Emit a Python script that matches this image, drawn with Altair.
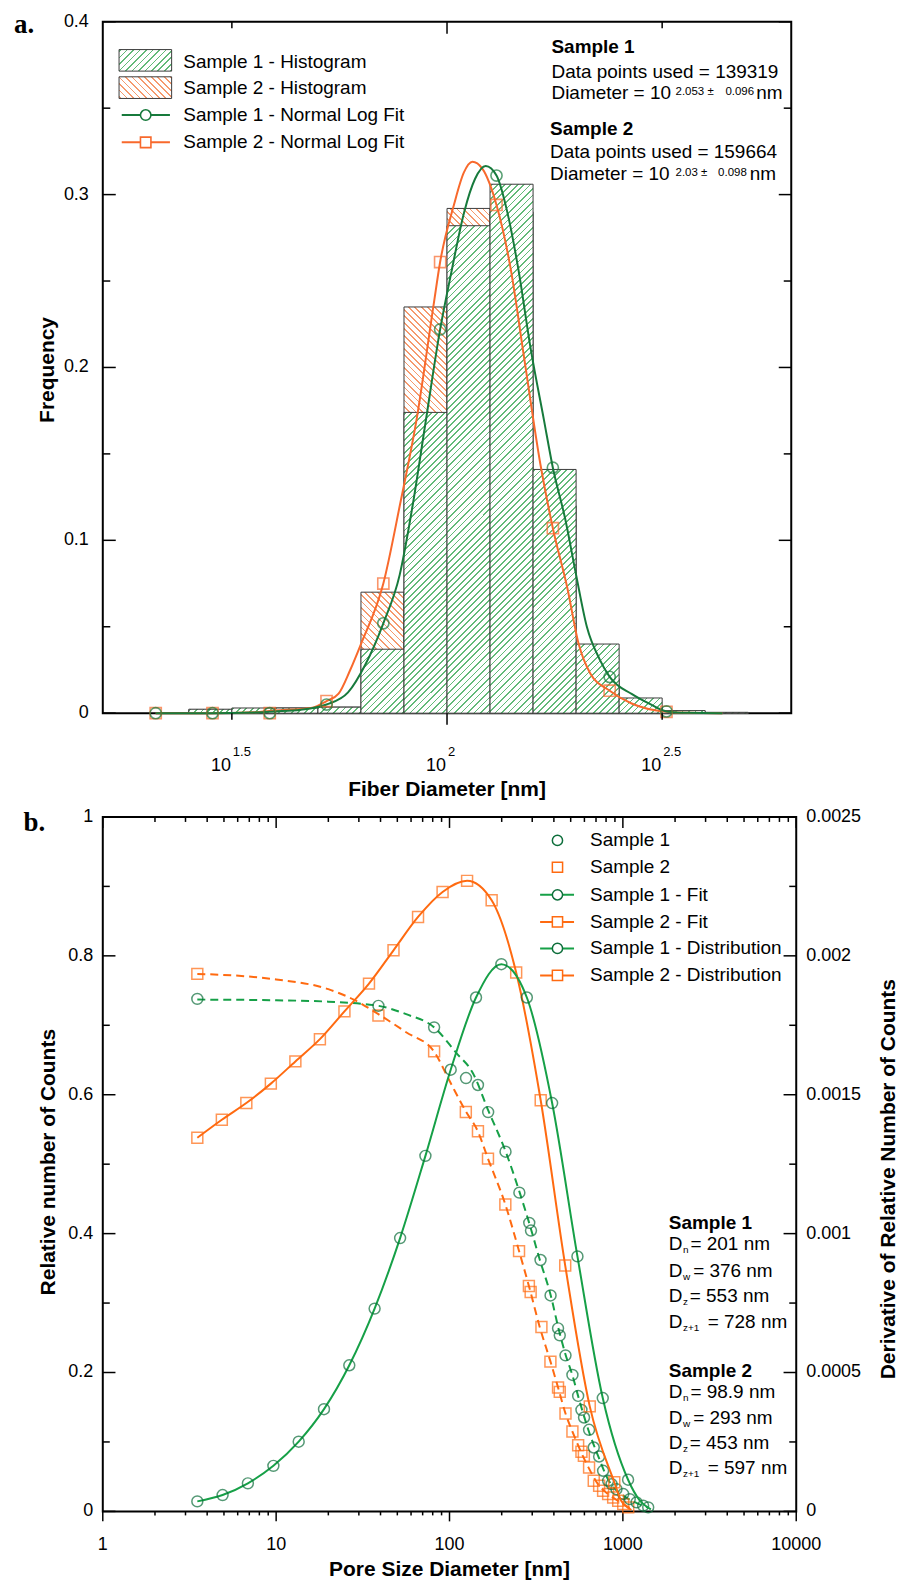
import altair as alt
import pandas as pd

FONT = "Liberation Sans"
SERIF = "Liberation Serif"

# ---------------- panel a data (x in log10 nm) ----------------
bin_lo_log10 = [1.4, 1.5, 1.6, 1.7, 1.8, 1.9, 2.0, 2.1, 2.2, 2.3, 2.4, 2.5, 2.6]
bin_width_log10 = 0.1
hist_sample1 = [0.0023, 0.003, 0.003, 0.0035, 0.037, 0.174, 0.282, 0.306, 0.141, 0.040, 0.0088, 0.0015, 0.0005]
hist_sample2 = [0.002, 0.0025, 0.003, 0.0035, 0.070, 0.235, 0.292, 0.290, 0.120, 0.020, 0.004, 0.001, 0.0003]

fitA1_log10 = [1.323, 1.45, 1.55, 1.60, 1.66, 1.72, 1.77, 1.81, 1.852, 1.89, 1.92, 1.95, 1.984, 2.01, 2.04,
               2.065, 2.09, 2.115, 2.14, 2.165, 2.195, 2.225, 2.246, 2.275, 2.30, 2.325, 2.355, 2.378, 2.43,
               2.47, 2.51, 2.56, 2.64]
fitA1_freq = [0, 0, 0.0004, 0.001, 0.002, 0.005, 0.012, 0.028, 0.052, 0.080, 0.120, 0.168, 0.222, 0.255, 0.290,
              0.309, 0.3165, 0.311, 0.290, 0.258, 0.21, 0.17, 0.142, 0.112, 0.080, 0.050, 0.031, 0.021, 0.011,
              0.0055, 0.001, 0.0002, 0]
fitA2_log10 = [1.323, 1.45, 1.55, 1.60, 1.684, 1.72, 1.748, 1.775, 1.80, 1.852, 1.891, 1.930, 1.969, 1.984,
               2.016, 2.039, 2.059, 2.082, 2.115, 2.148, 2.179, 2.217, 2.246, 2.280, 2.306, 2.333, 2.378, 2.429,
               2.51, 2.56, 2.64]
fitA2_freq = [0, 0, 0.0005, 0.0015, 0.003, 0.007, 0.0113, 0.025, 0.040, 0.075, 0.121, 0.171, 0.2365, 0.261,
              0.294, 0.3127, 0.319, 0.315, 0.294, 0.257, 0.206, 0.144, 0.107, 0.072, 0.040, 0.023, 0.013, 0.0056,
              0.0008, 0.0002, 0]
markA_log10 = [1.323, 1.455, 1.588, 1.72, 1.852, 1.984, 2.115, 2.246, 2.378, 2.51]
markA1_freq = [0, 0, 0, 0.005, 0.052, 0.222, 0.311, 0.142, 0.021, 0.001]
markA2_freq = [0, 0, 0, 0.007, 0.075, 0.261, 0.294, 0.107, 0.013, 0.0008]

tickA_major_log10 = [2.0]
tickA_minor_log10 = [1.5, 2.5]
tickA_label_log10 = [1.5, 2.0, 2.5]
tickA_label_exp = ["1.5", "2", "2.5"]
yA_major = [0, 0.1, 0.2, 0.3, 0.4]
yA_major_labels = ["0", "0.1", "0.2", "0.3", "0.4"]
yA_minor = [0.05, 0.15, 0.25, 0.35]

legendA_labels = ["Sample 1 - Histogram", "Sample 2 - Histogram",
                  "Sample 1 - Normal Log Fit", "Sample 2 - Normal Log Fit"]

# ---------------- panel b data (x in nm) ----------------
dist1_nm = [3.51, 4.91, 6.87, 9.64, 13.49, 18.88, 26.42, 36.98, 51.88, 72.61, 101.6, 142.2, 199.1, 279.3,
            390.8, 547.0, 765.6, 1071.5]
dist1_deriv = [0.000036, 0.0000588, 0.000101, 0.000164, 0.000251, 0.000368, 0.000526, 0.00073, 0.000984,
               0.00128, 0.00159, 0.00185, 0.00197, 0.00185, 0.00147, 0.000918, 0.000408, 0.000114]
dist1_tail_nm = [1250, 1370, 1450]
dist1_tail_deriv = [0.00004, 0.0000175, 0.0000075]

dist2_nm = [3.51, 4.86, 6.73, 9.32, 12.91, 17.88, 24.77, 34.32, 47.53, 65.84, 91.2, 126.3, 175.0, 242.4,
            335.7, 465.0, 644.2, 892.3]
dist2_deriv = [0.001345, 0.00141, 0.00147, 0.00154, 0.00162, 0.0017, 0.0018, 0.0019, 0.00202, 0.00214,
               0.00223, 0.00227, 0.0022, 0.00194, 0.00148, 0.000885, 0.000378, 0.000105]
dist2_tail_nm = [980, 1050, 1120]
dist2_tail_deriv = [0.0000375, 0.0000175, 0.000005]

fit1_nm = [3.51, 10, 19.95, 38.9, 56.2, 81.5, 109.6, 136.5, 167.5, 210.9, 254.1, 292.4, 331.1, 383.7, 426.6,
           466.7, 511.7, 552.1, 631, 724.4, 822.2, 912, 1000, 1202, 1413]
fit1_rel = [0.737, 0.736, 0.734, 0.728, 0.716, 0.697, 0.66, 0.631, 0.577, 0.518, 0.459, 0.41, 0.363, 0.311,
            0.262, 0.226, 0.196, 0.166, 0.118, 0.078, 0.046, 0.031, 0.023, 0.012, 0.005]
fit2_nm = [3.51, 10, 20, 28, 38.9, 56.2, 81.5, 100, 124.2, 145.9, 166.7, 209.9, 251.8, 290.4, 331, 382,
           426.6, 466.7, 511.7, 552.1, 631, 724, 822, 939, 1074, 1150]
fit2_rel = [0.774, 0.766, 0.752, 0.737, 0.716, 0.69, 0.662, 0.62, 0.576, 0.547, 0.508, 0.442, 0.375, 0.32,
            0.266, 0.216, 0.175, 0.141, 0.115, 0.095, 0.064, 0.038, 0.025, 0.015, 0.006, 0.002]

pts1_nm = [3.51, 38.9, 81.5, 124.5, 145.9, 167.1, 210.4, 252.9, 288.4, 295.1, 335, 382.8, 422.7, 432.5, 466.7,
           511.7, 552.1, 576.8, 597, 638.3, 679.2, 729.5, 769.1, 822.2, 861, 918, 1005, 1096, 1199, 1309, 1400]
pts1_rel = [0.738, 0.728, 0.697, 0.624, 0.614, 0.575, 0.518, 0.459, 0.4155, 0.4044, 0.362, 0.311, 0.2636,
            0.2535, 0.2247, 0.1965, 0.1663, 0.1462, 0.1352, 0.1175, 0.092, 0.079, 0.0585, 0.0441, 0.0393,
            0.032, 0.025, 0.0177, 0.013, 0.0082, 0.0058]
pts2_nm = [3.51, 38.9, 81.5, 124.2, 145.9, 166.7, 209.9, 251.8, 287, 293.8, 339, 382, 422.7, 432.5, 466.7,
           511.7, 552.1, 576.8, 595.7, 638.3, 679.2, 729.5, 769.1, 822.2, 879, 939.7, 1004.6, 1074]
pts2_rel = [0.774, 0.714, 0.6624, 0.5751, 0.5473, 0.508, 0.4419, 0.3748, 0.3245, 0.3159, 0.2656, 0.2157,
            0.1783, 0.1721, 0.1409, 0.115, 0.0953, 0.0858, 0.080, 0.0633, 0.0441, 0.0369, 0.0297, 0.025,
            0.0201, 0.0153, 0.0105, 0.0058]

xB_major = [1, 10, 100, 1000, 10000]
xB_major_labels = ["1", "10", "100", "1000", "10000"]
xB_minor = [m * d for d in [1, 10, 100, 1000] for m in range(2, 10)]
yB_major = [0, 0.2, 0.4, 0.6, 0.8, 1.0]
yB_major_labels = ["0", "0.2", "0.4", "0.6", "0.8", "1"]
yB_minor = [0.1, 0.3, 0.5, 0.7, 0.9]
yB_right = [0, 0.0005, 0.001, 0.0015, 0.002, 0.0025]
yB_right_labels = ["0", "0.0005", "0.001", "0.0015", "0.002", "0.0025"]

legendB_labels = ["Sample 1", "Sample 2", "Sample 1 - Fit", "Sample 2 - Fit",
                  "Sample 1 - Distribution", "Sample 2 - Distribution"]

# ---------------- styling ----------------
W_A, H_A = 690, 693
W_B, H_B = 695, 696
LEFT, TOP_A, TOP_B = 101, 19, 813

GA = "#177a3c"
OA = "#f8692c"
HG = "#62ba78"
HO = "#f59a6e"
GB_LINE = "#16a047"
GB_MARK = "#0d6e3b"
OB = "#ff6a10"
BAR_STROKE = "#3c3c3c"

ONE = pd.DataFrame({"k": [0]})


def ax(xf):
    return xf - LEFT


def ya_(yf):
    return yf - TOP_A


def yb_(yf):
    return yf - TOP_B


def text_layer(s, x, y, size=19, bold=False, align="left", baseline="alphabetic", angle=0, font=FONT):
    props = dict(text=s, fontSize=size, align=align, baseline=baseline, font=font, color="black")
    if bold:
        props["fontWeight"] = "bold"
    if angle:
        props["angle"] = angle
    return alt.Chart(ONE).mark_text(**props).encode(x=alt.value(x), y=alt.value(y))


def hatch(w, h, color, forward, period=6.5, thick=1.8, phase=1.0):
    w = max(float(w), 1.0)
    h = max(float(h), 1.0)
    L = w + h
    s = L / (w * w + h * h)
    stops = [{"offset": 0, "color": "#ffffff"}]
    k = 0
    while True:
        a = (phase + k * period) / L
        if a >= 1:
            break
        b = min((phase + k * period + thick) / L, 1.0)
        a, b = round(a, 5), round(b, 5)
        stops += [{"offset": a, "color": "#ffffff"}, {"offset": a, "color": color},
                  {"offset": b, "color": color}, {"offset": b, "color": "#ffffff"}]
        k += 1
    stops.append({"offset": 1, "color": "#ffffff"})
    if forward:
        return {"gradient": "linear", "x1": 0, "y1": 0, "x2": round(w * s, 5), "y2": round(h * s, 5),
                "stops": stops}
    return {"gradient": "linear", "x1": 0, "y1": 1, "x2": round(w * s, 5), "y2": round(1 - h * s, 5),
            "stops": stops}


def vticks(vals, scale, y0, y1, sw=1.5):
    return alt.Chart(pd.DataFrame({"v": vals})).mark_rule(color="black", strokeWidth=sw).encode(
        x=alt.X("v:Q", scale=scale, axis=None), y=alt.value(y0), y2=alt.value(y1))


def hticks(vals, scale, x0, x1, sw=1.5):
    return alt.Chart(pd.DataFrame({"v": vals})).mark_rule(color="black", strokeWidth=sw).encode(
        y=alt.Y("v:Q", scale=scale, axis=None), x=alt.value(x0), x2=alt.value(x1))


def ylabels(vals, labels, scale, x, align):
    df = pd.DataFrame({"v": vals, "lab": labels})
    return alt.Chart(df).mark_text(align=align, baseline="middle", fontSize=18, font=FONT, color="black").encode(
        y=alt.Y("v:Q", scale=scale, axis=None), x=alt.value(x), text="lab:N")


# ================= PANEL A =================
xa = alt.Scale(type="log", domain=[10 ** 1.2, 10 ** 2.8])
ya = alt.Scale(domain=[0, 0.4])
bar_w_px = W_A * bin_width_log10 / 1.6

layers_a = []
for vals, col, fwd in [(hist_sample2, HO, False), (hist_sample1, HG, True)]:
    for lo, v in zip(bin_lo_log10, vals):
        df = pd.DataFrame({"lo": [10 ** lo], "hi": [10 ** (lo + bin_width_log10)], "f": [v]})
        h_px = v * H_A / 0.4
        layers_a.append(
            alt.Chart(df).mark_rect(fill=hatch(bar_w_px, h_px, col, fwd), stroke=BAR_STROKE, strokeWidth=1)
            .encode(x=alt.X("lo:Q", scale=xa, axis=None), x2="hi:Q",
                    y=alt.Y("f:Q", scale=ya, axis=None), y2=alt.datum(0)))

for lg, fv, col in [(fitA2_log10, fitA2_freq, OA), (fitA1_log10, fitA1_freq, GA)]:
    df = pd.DataFrame({"d": [10 ** e for e in lg], "f": fv})
    layers_a.append(alt.Chart(df).mark_line(color=col, strokeWidth=2, interpolate="monotone").encode(
        x=alt.X("d:Q", scale=xa, axis=None), y=alt.Y("f:Q", scale=ya, axis=None)))

for fv, col, shp in [(markA2_freq, OA, "square"), (markA1_freq, GA, "circle")]:
    df = pd.DataFrame({"d": [10 ** e for e in markA_log10], "f": fv})
    layers_a.append(alt.Chart(df).mark_point(shape=shp, filled=False, size=125, strokeWidth=1.6, color=col)
                    .encode(x=alt.X("d:Q", scale=xa, axis=None), y=alt.Y("f:Q", scale=ya, axis=None)))

# ticks + labels
layers_a.append(hticks(yA_major, ya, 0, 13))
layers_a.append(hticks(yA_minor, ya, 0, 7.5))
layers_a.append(hticks(yA_major, ya, W_A - 12.5, W_A))
layers_a.append(hticks(yA_minor, ya, W_A - 7.5, W_A))
layers_a.append(vticks([10 ** e for e in tickA_major_log10], xa, 0, 12))
layers_a.append(vticks([10 ** e for e in tickA_minor_log10], xa, 0, 6.5))
layers_a.append(vticks([10 ** e for e in tickA_major_log10], xa, H_A, H_A + 11.7))
layers_a.append(vticks([10 ** e for e in tickA_minor_log10], xa, H_A, H_A + 6.7))
layers_a.append(ylabels(yA_major, yA_major_labels, ya, -14, "right"))

xlab = pd.DataFrame({"v": [10 ** e for e in tickA_label_log10], "e": tickA_label_exp})
layers_a.append(alt.Chart(xlab).mark_text(text="10", align="right", baseline="alphabetic", fontSize=18,
                                          font=FONT, color="black", dx=-1)
                .encode(x=alt.X("v:Q", scale=xa, axis=None), y=alt.value(H_A + 57.5)))
layers_a.append(alt.Chart(xlab).mark_text(align="left", baseline="alphabetic", fontSize=13,
                                          font=FONT, color="black", dx=1)
                .encode(x=alt.X("v:Q", scale=xa, axis=None), y=alt.value(H_A + 43), text="e:N"))

# legend a
layers_a.append(alt.Chart(ONE).mark_rect(fill=hatch(52.7, 21.6, HG, True), stroke=BAR_STROKE, strokeWidth=1)
                .encode(x=alt.value(16.3), x2=alt.value(69), y=alt.value(27.9), y2=alt.value(49.5)))
layers_a.append(alt.Chart(ONE).mark_rect(fill=hatch(52.7, 21.7, HO, False), stroke=BAR_STROKE, strokeWidth=1)
                .encode(x=alt.value(16.3), x2=alt.value(69), y=alt.value(55.2), y2=alt.value(76.9)))
for yy, col, shp in [(93.5, GA, "circle"), (120.9, OA, "square")]:
    layers_a.append(alt.Chart(ONE).mark_rule(color=col, strokeWidth=2)
                    .encode(x=alt.value(19), x2=alt.value(67.3), y=alt.value(yy)))
    layers_a.append(alt.Chart(ONE).mark_point(shape=shp, filled=True, fill="white", stroke=col, size=110,
                                              strokeWidth=1.6, opacity=1)
                    .encode(x=alt.value(43), y=alt.value(yy)))
for lab, yy in zip(legendA_labels, [40.2, 66.9, 93.5, 120.9]):
    layers_a.append(text_layer(lab, 80.7, yy, baseline="middle"))

# annotations a
for s, bold, xf, yf in [("Sample 1", True, 550.7, 50.3), ("Data points used = 139319", False, 550.7, 75.3),
                        ("Diameter = 10", False, 550.7, 96.6), ("Sample 2", True, 549.3, 132.1),
                        ("Data points used = 159664", False, 549.3, 155.6),
                        ("Diameter = 10", False, 549.3, 177.6),
                        ("nm", False, 756, 96.6), ("nm", False, 749.3, 177.6)]:
    layers_a.append(text_layer(s, ax(xf), ya_(yf), bold=bold))
for s, xf, yf in [("2.053 ±", 675, 92.6), ("0.096", 725, 92.6), ("2.03 ±", 675, 173.3),
                  ("0.098", 717.7, 173.3)]:
    layers_a.append(text_layer(s, ax(xf), ya_(yf), size=11.5))

layers_a.append(text_layer("a.", ax(12), ya_(30), size=27, bold=True, font=SERIF))
layers_a.append(text_layer("Frequency", ax(46), ya_(368), size=21, bold=True, align="center",
                           baseline="middle", angle=270))
layers_a.append(text_layer("Fiber Diameter [nm]", W_A / 2, ya_(789), size=21, bold=True, align="center",
                           baseline="middle"))

panel_a = alt.layer(*layers_a).properties(width=W_A, height=H_A)

# ================= PANEL B =================
xb = alt.Scale(type="log", domain=[1, 10000])
yb = alt.Scale(domain=[0, 1])
yb_r = alt.Scale(domain=[0, 0.0025])

left_b = []
left_b.append(hticks(yB_major, yb, 0, 12.7))
left_b.append(hticks(yB_minor, yb, 0, 7))
left_b.append(hticks(yB_major, yb, W_B - 12.7, W_B))
left_b.append(hticks(yB_minor, yb, W_B - 7, W_B))
left_b.append(vticks(xB_major, xb, 0, 11))
left_b.append(vticks(xB_minor, xb, 0, 5))
left_b.append(vticks(xB_major, xb, H_B, H_B + 10))
left_b.append(vticks(xB_minor, xb, H_B, H_B + 4))
left_b.append(ylabels(yB_major, yB_major_labels, yb, ax(91.5), "right"))
xlabB = pd.DataFrame({"v": xB_major, "lab": xB_major_labels})
left_b.append(alt.Chart(xlabB).mark_text(align="center", baseline="middle", fontSize=18, font=FONT,
                                         color="black")
              .encode(x=alt.X("v:Q", scale=xb, axis=None), y=alt.value(H_B + 34), text="lab:N"))

for nm, rv, col in [(fit2_nm, fit2_rel, OB), (fit1_nm, fit1_rel, GB_LINE)]:
    df = pd.DataFrame({"d": nm, "r": rv})
    left_b.append(alt.Chart(df).mark_line(color=col, strokeWidth=2, strokeDash=[8, 5], interpolate="monotone")
                  .encode(x=alt.X("d:Q", scale=xb, axis=None), y=alt.Y("r:Q", scale=yb, axis=None)))
for nm, rv, col, shp in [(pts2_nm, pts2_rel, OB, "square"), (pts1_nm, pts1_rel, GB_MARK, "circle")]:
    df = pd.DataFrame({"d": nm, "r": rv})
    left_b.append(alt.Chart(df).mark_point(shape=shp, filled=False, size=120, strokeWidth=1.5, color=col)
                  .encode(x=alt.X("d:Q", scale=xb, axis=None), y=alt.Y("r:Q", scale=yb, axis=None)))

# legend b
leg_rows = [23.5, 50.4, 78, 105.2, 131.8, 158.8]
leg_style = [(None, GB_MARK, "circle"), (None, OB, "square"), (GB_LINE, GB_MARK, "circle"),
             (OB, OB, "square"), (GB_LINE, GB_MARK, "circle"), (OB, OB, "square")]
for yy, (lc, mc, shp), lab in zip(leg_rows, leg_style, legendB_labels):
    if lc:
        left_b.append(alt.Chart(ONE).mark_rule(color=lc, strokeWidth=2)
                      .encode(x=alt.value(ax(539.3)), x2=alt.value(ax(573.3)), y=alt.value(yy)))
    left_b.append(alt.Chart(ONE).mark_point(shape=shp, filled=True, fill="white", stroke=mc, size=105,
                                            strokeWidth=1.5, opacity=1)
                  .encode(x=alt.value(ax(556.7)), y=alt.value(yy)))
    left_b.append(text_layer(lab, ax(589.3), yy, baseline="middle"))

# annotations b
left_b.append(text_layer("Sample 1", ax(668.3), yb_(1225.5), bold=True))
left_b.append(text_layer("Sample 2", ax(668.3), yb_(1374), bold=True))
for sub, rest, yf, rx in [("n", "= 201 nm", 1247.5, 690), ("w", "= 376 nm", 1273.7, 692.7),
                          ("z", "= 553 nm", 1299.5, 689.3), ("z+1", "= 728 nm", 1325, 707.3),
                          ("n", "= 98.9 nm", 1395.5, 690), ("w", "= 293 nm", 1421, 692.7),
                          ("z", "= 453 nm", 1446.8, 689.3), ("z+1", "= 597 nm", 1472, 707.3)]:
    left_b.append(text_layer("D", ax(668.3), yb_(yf)))
    left_b.append(text_layer(sub, ax(682.5), yb_(yf) + 3, size=10))
    left_b.append(text_layer(rest, ax(rx), yb_(yf)))

left_b.append(text_layer("b.", ax(21.5), yb_(826.7), size=27, bold=True, font=SERIF))
left_b.append(text_layer("Relative number of Counts", ax(47.4), yb_(1159), size=21, bold=True,
                         align="center", baseline="middle", angle=270))
left_b.append(text_layer("Derivative of Relative Number of Counts", ax(889), yb_(1176), size=21, bold=True,
                         align="center", baseline="middle", angle=270))
left_b.append(text_layer("Pore Size Diameter [nm]", W_B / 2, yb_(1568), size=21, bold=True,
                         align="center", baseline="middle"))

right_b = []
for nm, dv, tnm, tdv, lcol, mcol, shp in [
        (dist2_nm, dist2_deriv, dist2_tail_nm, dist2_tail_deriv, OB, OB, "square"),
        (dist1_nm, dist1_deriv, dist1_tail_nm, dist1_tail_deriv, GB_LINE, GB_MARK, "circle")]:
    dfl = pd.DataFrame({"d": nm + tnm, "q": dv + tdv})
    right_b.append(alt.Chart(dfl).mark_line(color=lcol, strokeWidth=2, interpolate="monotone")
                   .encode(x=alt.X("d:Q", scale=xb, axis=None), y=alt.Y("q:Q", scale=yb_r, axis=None)))
    dfm = pd.DataFrame({"d": nm, "q": dv})
    right_b.append(alt.Chart(dfm).mark_point(shape=shp, filled=False, size=120, strokeWidth=1.5, color=mcol)
                   .encode(x=alt.X("d:Q", scale=xb, axis=None), y=alt.Y("q:Q", scale=yb_r, axis=None)))
right_b.append(ylabels(yB_right, yB_right_labels, yb_r, W_B + 10, "left"))

panel_b = alt.layer(alt.layer(*left_b), alt.layer(*right_b)).resolve_scale(y="independent").properties(
    width=W_B, height=H_B)

chart = alt.vconcat(panel_a, panel_b, spacing=6).properties(
    padding={"left": 5, "top": 0, "right": 0, "bottom": 0}, background="white"
).configure_view(stroke="black", strokeWidth=2)

chart.save("out.html", embed_options={"renderer": "svg", "actions": False})
